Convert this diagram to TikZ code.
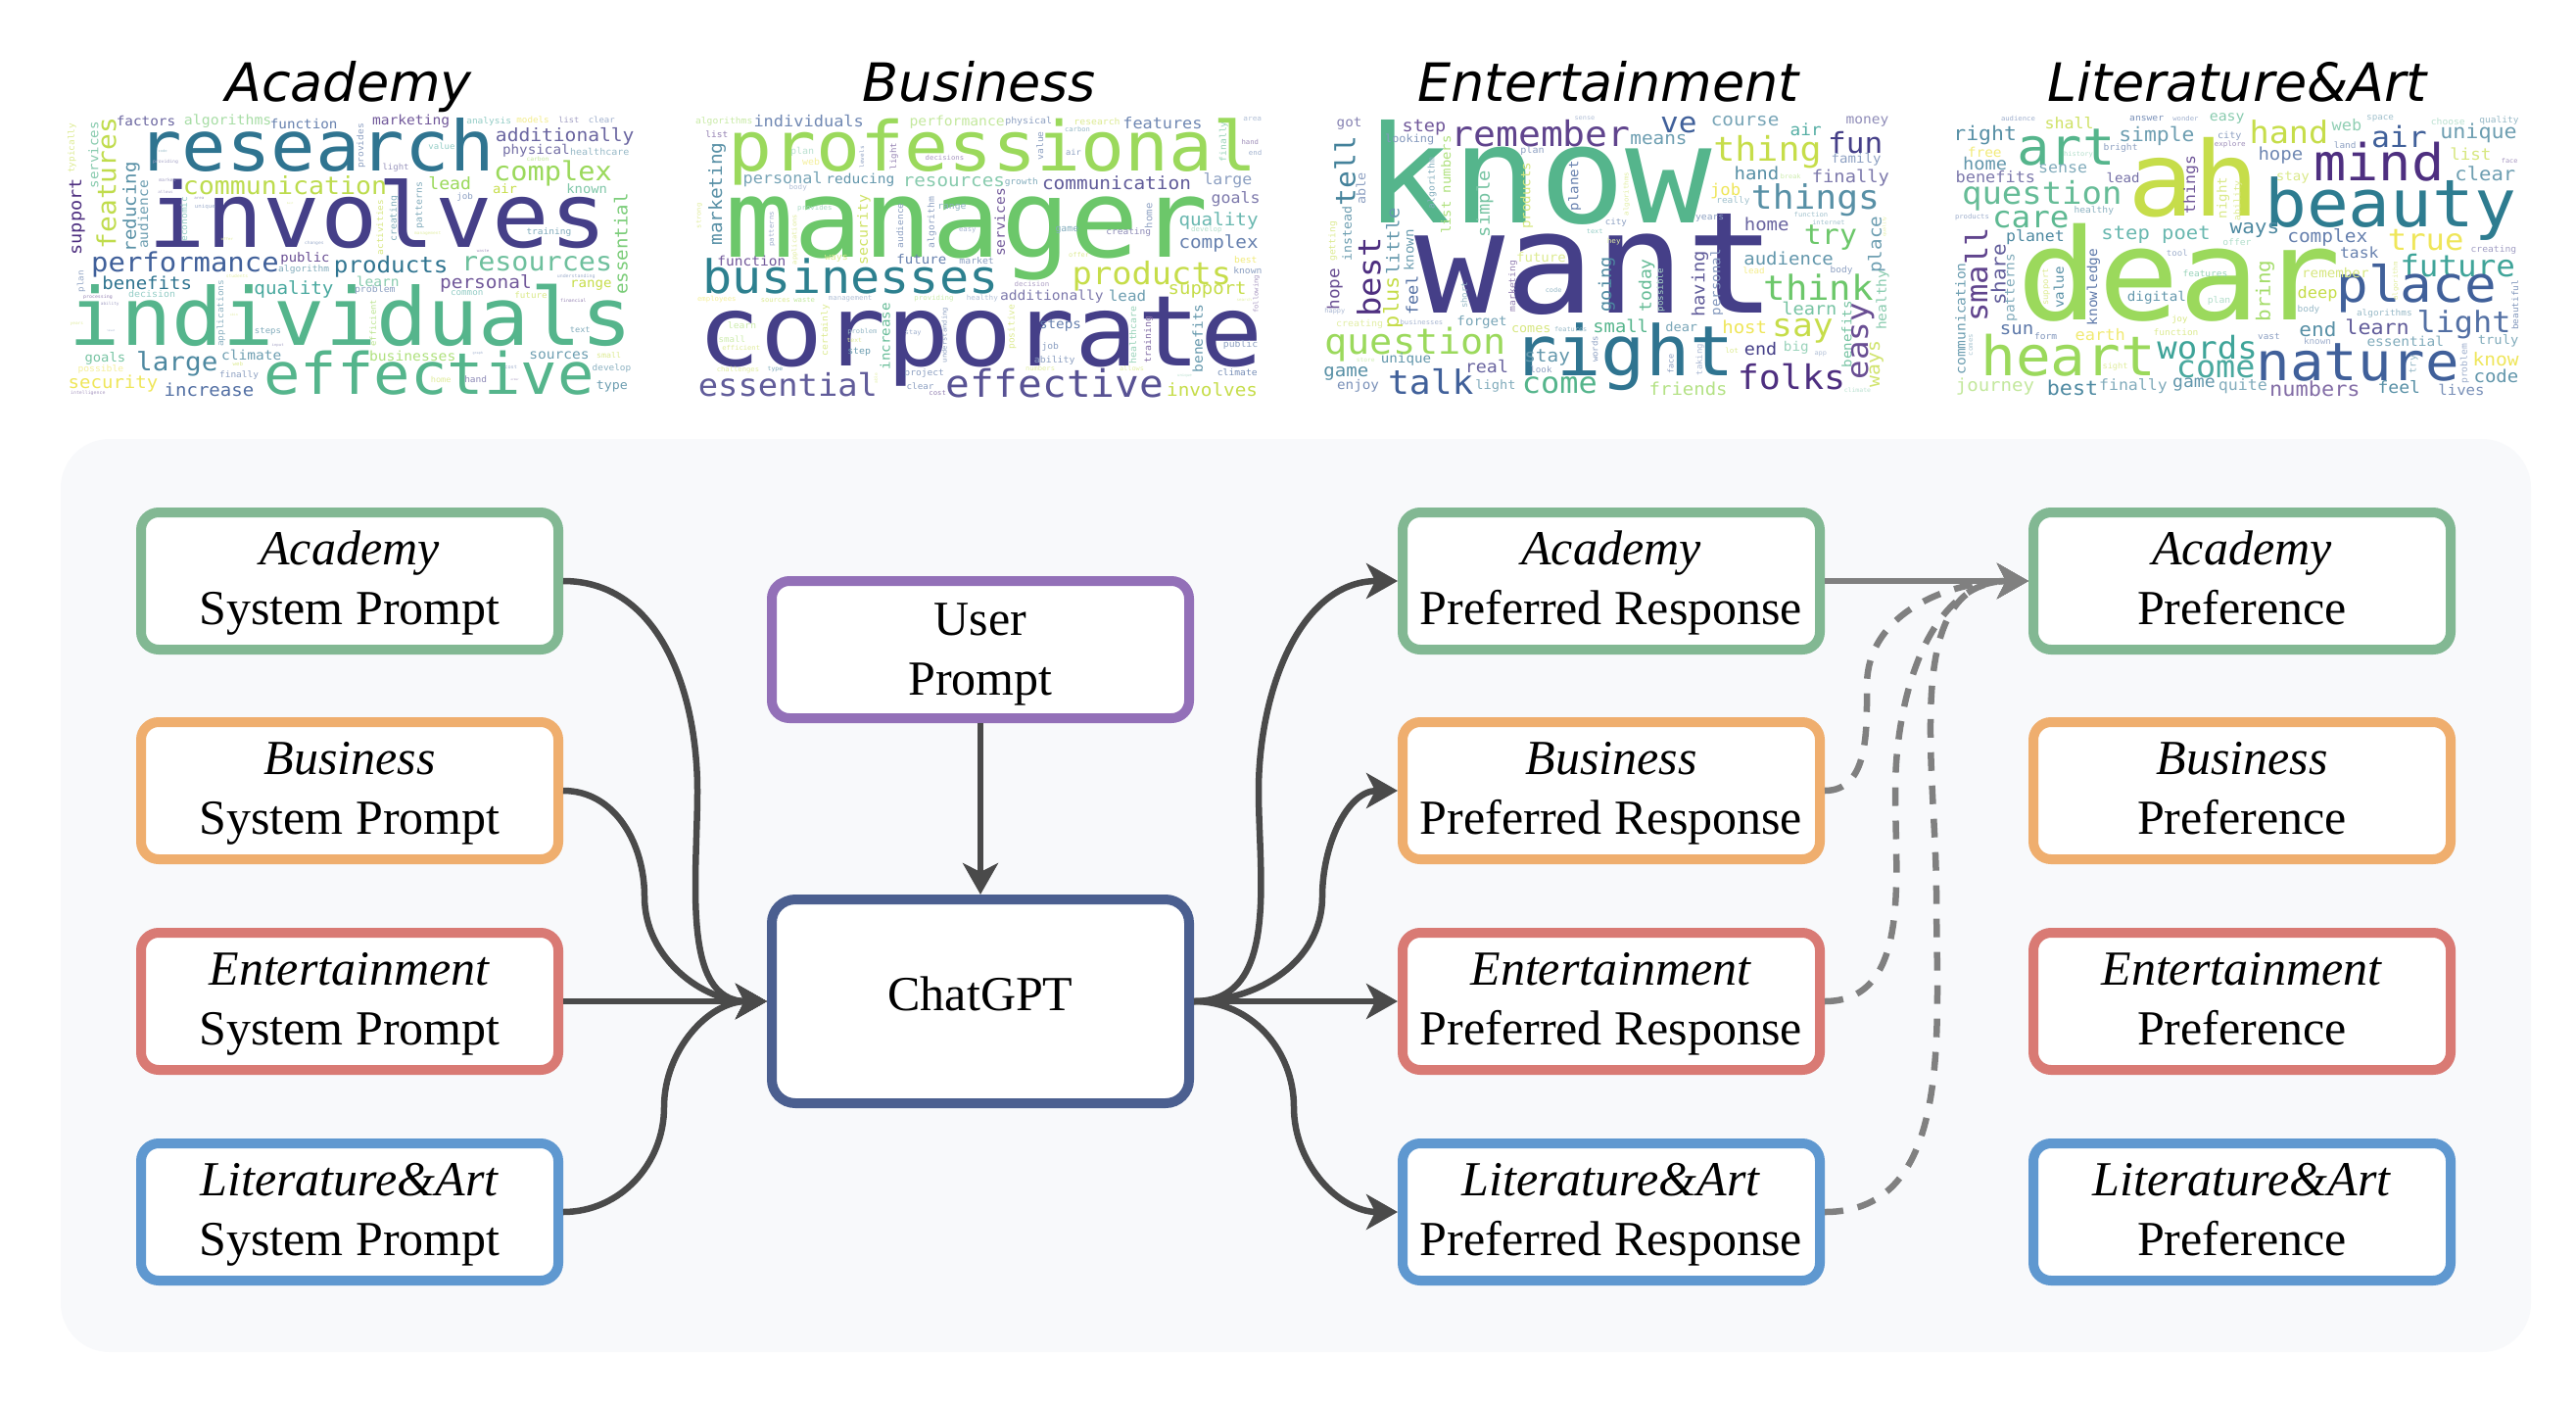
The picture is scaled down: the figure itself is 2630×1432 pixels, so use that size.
\documentclass[tikz,border=0pt]{standalone}
\usepackage{fontspec}
\usetikzlibrary{arrows.meta}
\setmainfont{Liberation Serif}
\newfontfamily\cloudfont{DejaVu Sans Mono}
\newfontfamily\titlefont{DejaVu Sans}
\definecolor{panelgray}{HTML}{F8F9FB}
\definecolor{linkdark}{HTML}{4A4A4A}
\definecolor{linkgray}{HTML}{808080}
\definecolor{boxgreen}{HTML}{82B893}
\definecolor{boxorange}{HTML}{EFAE6E}
\definecolor{boxred}{HTML}{D97A74}
\definecolor{boxblue}{HTML}{5F98D0}
\definecolor{boxpurple}{HTML}{9370B8}
\definecolor{boxnavy}{HTML}{4B5F90}
\definecolor{va}{HTML}{4E2F80}
\definecolor{vb}{HTML}{453F88}
\definecolor{vc}{HTML}{40609A}
\definecolor{vd}{HTML}{2F7490}
\definecolor{ve}{HTML}{2A9A8E}
\definecolor{vf}{HTML}{55B58C}
\definecolor{vg}{HTML}{6CC76A}
\definecolor{vh}{HTML}{9BD95C}
\definecolor{vi}{HTML}{C6DD4A}
\definecolor{vj}{HTML}{EFE65A}
\tikzset{
  promptbox/.style={draw=#1,fill=white,line width=10pt,rounded corners=18pt,minimum width=426pt,minimum height=140pt,align=center,font=\fontsize{50pt}{61pt}\selectfont},
  modelbox/.style={promptbox=#1,minimum height=208pt,rounded corners=24pt},
  link/.style={draw=linkdark,line width=6.5pt,-{Stealth[length=32pt,width=36pt,inset=9pt]}},
  graylink/.style={draw=linkgray,line width=6.5pt,-{Stealth[length=32pt,width=36pt,inset=9pt]}},
  grayjoin/.style={graylink,dash pattern=on 19pt off 15pt},
  wordnode/.style={inner sep=0pt,outer sep=0pt},
  cloudtitle/.style={anchor=base,font=\titlefont\itshape\fontsize{54pt}{60pt}\selectfont}
}
% two lines of a box, with a strut to set their height in the box
\newcommand{\boxlines}[3][38pt]{\rule{0pt}{#1}#2\\#3\vphantom{p}}
% one word cloud: name, crop origin x and y, horizontal scale, words
\newcommand{\wordcloud}[5]{
  \foreach \wx/\wy/\wl/\wa/\wc/\wt [count=\wi] in {#5} {
    \pgfmathsetmacro\px{#2+\wx/#4}
    \pgfmathsetmacro\py{#3+3+\wy/3}
    \pgfmathsetlengthmacro\plen{1.02*(\wa==0 ? \wl/#4 : \wl/3)}
    \node[wordnode,text=\wc,rotate=\wa] (#1\wi) at (\px,\py) {\scalebox{1}[0.94]{\resizebox{\plen}{!}{\cloudfont\wt}}};
  }
}
\begin{document}
\begin{tikzpicture}[x=1pt,y=-1pt]
\useasboundingbox (0,0) rectangle (2630,1432);
\fill[white] (0,0) rectangle (2630,1432);

% titles
\node[cloudtitle] (titleacademy) at (356,103) {Academy};
\node[cloudtitle] (titlebusiness) at (1000,103) {Business};
\node[cloudtitle] (titleentertain) at (1642,103) {Entertainment};
\node[cloudtitle] (titleliterature) at (2284,103) {Literature\&Art};

% word clouds
\wordcloud{acad}{40}{30}{2.45}{
692/345/875/0/vd/research,847/555/1125/0/vb/involves,780/868/1380/0/vf/individuals,975/1042/810/0/vf/effective,
615/470/500/0/vi!80!vh/communication,365/712/460/0/vc/performance,880/718/280/0/vd/products,1245/708/370/0/vf!85/resources,
1285/432/290/0/vh/complex,1315/320/340/0/vb!80/additionally,1243/362/165/0/vb!75/physical,1402/365/145/0/vd!50/healthcare,
267/272/145/0/vb!80/factors,472/272/215/0/vg!60/algorithms,662/280/165/0/vc!80/function,930/272/190/0/va!80/marketing,
1125/272/110/0/ve!50/analysis,1235/268/80/0/vj!70/models,1325/268/50/0/vb!50/list,1407/268/65/0/vc!50/clear,
82/355/150/90/vi!60/typically,168/462/395/90/vi!85!vh/features,136/375/200/90/vf!70/services,230/535/270/90/vd!80/reducing,
260/558/205/90/vd!70/audience,95/565/230/90/va/support,805/348/135/90/vc!60/provides,1007/348/65/0/ve!50/value,
892/415/65/0/vb!55/light,1247/388/55/0/vh!60/carbon,1027/462/105/0/vh/lead,1165/480/60/0/vi/air,1370/478/100/0/vf!75/known,
1065/505/40/0/vc!60/job,1455/648/305/90/vg!90/essential,1275/612/110/0/vd!60/training,888/570/140/90/vd!60/creating,
952/530/140/90/vd!60/patterns,852/597/165/90/vi!70/activities,362/572/135/90/ve!50/economic,665/692/120/0/va!85/public,
662/727/125/0/vd!60/algorithm,270/767/220/0/vd/benefits,637/787/195/0/ve!85/quality,1117/770/225/0/va!80/personal,
847/762/105/0/vf!70/learn,840/788/100/0/vc!60/problem,1380/775/102/0/vi/range,105/762/65/90/vc!55/plan,282/802/115/0/ve!50/decision,
1070/797/80/0/ve!50/common,1230/805/80/0/vi!65/future,455/860/200/90/vd!55/applications,835/890/140/90/vh!70/efficient,
147/810/71/0/va!60/processing,572/915/65/0/vd!60/steps,1353/910/50/0/vd!60/text,165/998/100/0/vf!80/goals,345/1015/200/0/vd!85/large,
531/988/147/0/vd!70/climate,934/990/212/0/vh!80/businesses,1301/990/147/0/vd!70/sources,1425/990/60/0/vi!60/small,
1432/1028/95/0/vd!55/develop,154/1033/112/0/vj!60/possible,500/1050/96/0/vc!60/finally,185/1075/220/0/vj/security,
425/1095/220/0/vc!90/increase,1005/1063/50/0/vi!55/home,1092/1063/55/0/vb!60/hand,1433/1085/77/0/vd!70/type,
122/1105/85/0/va!50/intelligence,1336/820/63/0/va!60/financial,1343/747/93/0/vc!50/understanding,495/747/54/0/vi!50/students,
316/398/62/0/vb!50/providing,321/453/42/0/vb!50/market,316/490/37/0/vb!45/allows,400/507/24/0/vb!50/area,415/533/50/0/vc!50/unique,
309/362/22/0/vd!45/code,470/632/30/0/vi!55/offer,688/645/47/0/vc!50/changes,972/617/65/0/vi!50/management,1110/668/30/0/va!50/waste,
177/833/45/0/vb!50/ability,94/892/32/0/vi!55/years,180/915/20/0/vc!50/level,487/865/19/0/vi!55/skin,597/957/29/0/vb!50/input,
497/1015/25/0/vi!60/web,1097/983/25/0/vc!50/graph,1180/1025/30/0/vc!50/cost,1190/1065/20/0/va!50/order,630/523/20/0/vi!55/best
}
\wordcloud{busi}{680}{30}{2.45}{
817/365/1295/0/vh/professional,752/630/1185/0/vg/manager,787/948/1385/0/vb/corporate,462/748/725/0/vd!70!ve/businesses,
1215/745/390/0/vi/products,305/1078/440/0/vb!85/essential,972/1075/535/0/vb!90/effective,1366/1095/223/0/vi/involves,
357/272/270/0/vc!75/individuals,728/275/233/0/vh!60/performance,907/272/115/0/vc!60/physical,1078/272/113/0/vi!60/research,
1242/278/195/0/vc!75/features,145/272/140/0/vh!55/algorithms,1467/267/45/0/vc!40/area,127/312/55/0/va!60/list,
1029/297/62/0/vd!50/carbon,1395/335/120/90/vf!60/finally,1461/335/42/0/va!55/hand,1474/370/32/0/vc!50/end,
128/495/310/90/vd!80/marketing,341/365/58/0/vf!40/plan,363/395/43/0/vj!60/web,935/347/85/90/vc!60/value,1019/368/38/0/vc!60/air,
490/382/65/90/vc!60/levels,570/380/80/90/va!60/light,697/383/95/0/va!50/decisions,292/450/195/0/vd!65/personal,
486/452/168/0/vd!75/reducing,720/458/250/0/vf!70/resources,889/460/82/0/vd!60/growth,1127/460/365/0/vb!85/communication,
1405/455/120/0/vc!60/large,330/477/44/0/vc!40/body,1425/510/120/0/vb!70/goals,1382/578/195/0/ve!70/quality,1382/645/195/0/vc!80/complex,
835/582/205/90/va!80/services,495/605/210/90/vi!85/security,585/592/135/90/vc!60/audience,665/582/155/90/vc!60/algorithm,
715/538/70/0/vd!55/range,372/540/85/0/vf!50/provides,83/562/75/90/vi!55/strong,265/602/105/90/vc!50/patterns,322/635/150/90/vi!55/applications,
754/607/42/0/vc!45/easy,1003/605/57/0/vd!60/game,1157/612/110/0/vb!60/creating,1207/562/75/90/vc!60/home,1352/605/75/0/vf!45/develop,
1033/680/50/0/vi!60/offer,214/700/168/0/va!80/function,426/692/57/0/vi!60/ways,639/696/122/0/vc!80/future,777/700/85/0/vc!60/market,
1450/695/56/0/vj!80/best,1455/730/70/0/vc!60/known,915/772/86/0/va!45/decision,1354/790/192/0/vi/support,965/810/254/0/vb!70/additionally,
1154/807/92/0/vd!70/lead,1477/802/115/90/va!50/following,127/817/95/0/vj!60/employees,274/820/72/0/vi!60/sources,346/820/52/0/vh!60/waste,
461/815/107/0/vc!40/management,670/815/96/0/vh!50/providing,791/815/77/0/vc!40/healthy,1446/820/37/0/vi!50/search,
398/912/155/90/vi!60/certainly,548/930/200/90/vf!90/increase,865/902/135/90/vi!60/positive,986/897/103/0/vc!80/steps,
1168/927/175/90/vf!60/healthcare,1207/940/140/90/va!70/training,1330/937/205/90/vd!75/benefits,190/898/70/0/vh!50/learn,165/940/66/0/vh!50/small,
491/917/72/0/vd!50/problem,618/922/40/0/vc!50/stay,698/927/165/90/vc!60/understanding,961/962/42/0/vc!60/job,1437/957/85/0/vc!60/public,
471/942/37/0/vi!55/text,188/967/93/0/vi!55/efficient,483/980/57/0/vd!70/step,972/1005/100/0/vc!60/ability,936/1028/72/0/vi!50/numbers,
1165/1028/60/0/vi!50/allows,180/1033/104/0/vi!50/challenges,273/1033/37/0/vd!60/type,646/1045/97/0/vc!60/project,636/1085/67/0/vc!60/clear,
679/1103/42/0/va!60/cost,1297/1050/35/0/vf!40/unique,1429/1040/98/0/vc!70/climate,525/1055/40/90/vi!50/able
}
\wordcloud{ente}{1320}{30}{2.45}{
615/430/850/0/vf/know,757/712/885/0/vb/want,827/995/545/0/vd/right,307/955/445/0/vh/question,1247/1055/265/0/va/folks,345/1070/210/0/vc/talk,
667/1082/185/0/vf/come,620/310/440/0/va!90/remember,1187/365/265/0/vi/thing,1307/515/315/0/vd!80/things,1315/780/270/0/vg/think,
1275/915/150/0/vi/say,1345/630/130/0/vg/try,1407/338/135/0/vb/fun,965/283/90/0/vc/ve,1131/272/167/0/vd!65/course,1283/298/77/0/ve!80/air,
1437/272/105/0/vb!60/money,1409/388/122/0/vc!60/family,1395/445/190/0/vb!70/finally,1160/432/110/0/vd!80/hand,1245/440/50/0/vh!50/break,
915/328/140/0/vd!70/means,328/292/107/0/va!80/step,141/280/62/0/vb!65/got,292/327/120/0/vc!65/looking,599/362/58/0/vc!60/plan,730/262/50/0/vc!40/sense,
130/425/210/90/vd!90/tell,170/478/95/90/vc!60/able,348/462/155/90/vd!60/algorithm,383/467/295/90/vh!80/list numbers,480/525/200/90/vf!80/simple,
585/500/200/90/vi!70/products,705/470/150/90/vc!80/planet,1082/485/75/0/vj/job,1101/517/82/0/vd!45/really,835/495/130/90/vi!50/algorithms,
1185/588/110/0/vb!80/home,1296/558/83/0/vd!45/function,1340/583/80/0/vd!45/internet,1480/595/60/90/vi!50/quality,1460/650/170/90/vd!70/place,
1043/570/70/0/vc!60/years,808/583/53/0/vc!60/city,755/610/40/0/ve!50/text,803/640/33/0/vi!50/hey,100/640/120/90/vi!60/getting,135/617/165/90/vd!70/instead,
250/640/200/90/vd!75/little,290/667/125/90/vd!70/known,190/750/240/90/va/best,105/787/125/90/va!85/hope,250/827/155/90/vi/plus,298/805/120/90/vc!90/feel,
105/855/50/0/vc!45/happy,621/688/122/0/vi!60/future,550/777/155/90/va!60/marketing,428/805/80/90/vd!50/short,652/788/40/0/vd!50/code,785/772/165/90/vd!85/going,
885/775/160/90/vf!90/today,920/790/130/90/vf!50/possible,1018/770/200/90/vb!85/having,1060/765/200/90/vc!65/personal,1240/692/220/0/vd!75/audience,
1153/730/53/0/vj!70/lead,1372/730/55/0/vc!60/body,1475/820/180/90/vf!70/healthy,1292/845/135/0/vf!80/learn,1385/925/200/90/vf!80/benefits,
1425/945/230/90/va!85/easy,1460/1015/140/90/vi!80/ways,167/895/115/0/vi!50/creating,322/887/105/0/vc!45/businesses,473/888/123/0/vd!65/forget,
596/908/97/0/vi!70/comes,695/910/80/0/vd!50/features,820/900/136/0/vf/small,972/902/79/0/vd!65/dear,1130/903/110/0/vj/host,1170/968/80/0/vb/end,
1259/965/62/0/vf!60/big,1098/975/33/0/vi!60/lot,1320/985/30/0/vc!40/app,755/970/80/90/vc!60/words,1018/1002/95/90/vc!45/taking,945/1015/60/90/vc!60/face,
283/1002/123/0/vd!75/unique,182/1002/45/0/vh!45/store,636/995/112/0/vd!75/stay,485/1022/106/0/vb!80/real,621/1033/53/0/vc!60/look,133/1045/110/0/vd!80/game,
163/1082/103/0/vc!70/enjoy,507/1083/99/0/vd!60/light,989/1092/192/0/vh!75/friends,1417/1095/75/0/vf!40/climate
}
\wordcloud{lite}{1960}{30}{2.34}{
655/443/310/0/vi/ah,620/737/760/0/vh/dear,1125/540/590/0/vd!80!ve/beauty,1097/397/305/0/va/mind,350/352/230/0/vf/art,882/305/185/0/vi/hand,
1145/320/130/0/vc/air,156/315/148/0/vd!80/right,566/318/177/0/vd!70/simple,357/278/115/0/vi!85/shall,1335/310/180/0/vd!70/unique,1020/283/70/0/vf!65/web,
1100/265/64/0/vd!45/space,1262/272/80/0/vf!40/choose,1384/270/92/0/vd!50/quality,235/265/80/0/vc!50/audience,542/263/80/0/vc!70/answer,635/265/60/0/vc!50/wonder,
734/265/82/0/vf!70/easy,740/317/56/0/vc!60/city,741/343/73/0/va!55/explore,480/355/80/0/vc!60/bright,1016/345/52/0/vc!60/land,155/368/80/0/vj!80/free,
379/375/68/0/vf!45/history,862/378/105/0/vc!75/hope,1316/373/97/0/vi!70/list,156/403/103/0/vd!75/home,342/418/115/0/vd!60/sense,1409/392/38/0/va!50/face,
181/443/187/0/vb!70/benefits,486/447/78/0/vb!75/lead,891/445/78/0/vi!65/stay,1351/432/142/0/vd!70/clear,292/500/375/0/vf!90/question,
648/467/175/90/va!80/things,725/507/125/90/vi!65/night,760/515/120/90/vi!60/ability,265/572/180/0/vf!95/care,416/547/93/0/vd!55/healthy,125/567/80/0/vc!50/products,
135/742/285/90/va!90/small,188/742/185/90/vb!85/share,276/628/137/0/vd!85/planet,564/620/255/0/ve!70/step poet,800/605/116/0/vd!85/ways,758/642/67/0/vf!45/offer,
974/627/188/0/vc!80/complex,1209/635/178/0/vj/true,1371/665/107/0/vb!50/creating,1050/675/90/0/vc!80/task,615/675/50/0/vc!50/tool,1285/715/270/0/ve!90/future,
1187/785/375/0/vc/place,993/737/157/0/vi!70/remember,682/738/105/0/vf!60/features,825/792/185/90/vh!90/bring,218/782/205/90/vd!60/patterns,332/782/125/90/vd!80/value,
302/780/110/90/vi!60/support,415/780/230/90/vc!85/knowledge,97/877/335/90/vd!70/communication,566/813/138/0/vd!75/digital,715/823/54/0/vf!45/plan,950/800/94/0/vi/deep,
1137/762/115/90/vi!55/algorithm,1422/835/150/90/vc!65/beautiful,929/848/52/0/vd!50/body,1110/862/130/0/vd!50/algorithms,1300/895/220/0/vc!90/light,1093/903/150/0/vb!85/learn,
621/880/37/0/vi!70/joy,232/912/79/0/vc!85/sun,301/930/53/0/vc!65/form,431/925/117/0/vj!85/earth,612/918/105/0/vi!60/function,834/930/52/0/vc!60/vast,950/945/64/0/vc!50/known,
951/910/87/0/vd!80/end,1160/945/180/0/vd!60/essential,1382/945/95/0/vd!60/truly,122/957/65/90/vd!40/comes,355/990/410/0/vh/heart,687/965/235/0/ve!90/words,
1047/1010/475/0/vc/nature,707/1032/185/0/ve!85/come,467/1023/60/0/vi!55/sight,1302/1015/120/90/vc!50/problem,1180/1017/55/90/vd!50/try,1376/1000/108/0/vj/know,
1377/1053/105/0/vd!75/code,180/1085/184/0/vh!60/journey,365/1088/120/0/vd!85/best,510/1083/160/0/vd!60/finally,655/1080/100/0/vd!75/game,772/1085/115/0/vd!60/quite,
944/1092/212/0/va!70/numbers,1145/1085/100/0/vd!80/feel,1305/1095/130/0/vc!70/lives
}

% panel
\fill[panelgray,rounded corners=50pt] (62,448) rectangle (2584,1380);

% system prompts
\node[promptbox=boxgreen] (sysacademy) at (357,593) {\boxlines{\textit{Academy}}{System Prompt}};
\node[promptbox=boxorange] (sysbusiness) at (357,807) {\boxlines{\textit{Business}}{System Prompt}};
\node[promptbox=boxred] (sysentertain) at (357,1022) {\boxlines{\textit{Entertainment}}{System Prompt}};
\node[promptbox=boxblue] (sysliterature) at (357,1237) {\boxlines{\textit{Literature\&Art}}{System Prompt}};

% middle
\node[promptbox=boxpurple] (userprompt) at (1001,663) {\boxlines[42pt]{User}{Prompt}};
\node[modelbox=boxnavy] (chatgpt) at (1001,1022) {\rule[-15pt]{0pt}{1pt}ChatGPT};

% responses
\node[promptbox=boxgreen] (respacademy) at (1645,593) {\boxlines{\textit{Academy}}{Preferred Response}};
\node[promptbox=boxorange] (respbusiness) at (1645,807) {\boxlines{\textit{Business}}{Preferred Response}};
\node[promptbox=boxred] (respentertain) at (1645,1022) {\boxlines{\textit{Entertainment}}{Preferred Response}};
\node[promptbox=boxblue] (respliterature) at (1645,1237) {\boxlines{\textit{Literature\&Art}}{Preferred Response}};

% preferences
\node[promptbox=boxgreen] (prefacademy) at (2289,593) {\boxlines{\textit{Academy}}{Preference}};
\node[promptbox=boxorange] (prefbusiness) at (2289,807) {\boxlines{\textit{Business}}{Preference}};
\node[promptbox=boxred] (prefentertain) at (2289,1022) {\boxlines{\textit{Entertainment}}{Preference}};
\node[promptbox=boxblue] (prefliterature) at (2289,1237) {\boxlines{\textit{Literature\&Art}}{Preference}};

% bend points of the curved links
\coordinate (inacademy) at (712,807);
\coordinate (inbusiness) at (658,915);
\coordinate (inliterature) at (678,1130);
\coordinate (outacademy) at (1285,807);
\coordinate (outbusiness) at (1350,915);
\coordinate (outliterature) at (1321,1130);
\coordinate (joinbusiness) at (1906,700);
\coordinate (joinentertain) at (1935,807);
\coordinate (joinliterature) at (1977,915);

% links into chatgpt
\draw[link] (sysacademy.east) to[out=0,in=90] (inacademy) to[out=-90,in=180] (chatgpt.west);
\draw[link] (sysbusiness.east) to[out=0,in=90] (inbusiness) to[out=-90,in=180] (chatgpt.west);
\draw[link] (sysentertain.east) -- (chatgpt.west);
\draw[link] (sysliterature.east) to[out=0,in=-90] (inliterature) to[out=90,in=180] (chatgpt.west);
\draw[link] (userprompt.south) -- (chatgpt.north);

% links out of chatgpt
\draw[link] (chatgpt.east) to[out=0,in=-90] (outacademy) to[out=90,in=180] (respacademy.west);
\draw[link] (chatgpt.east) to[out=0,in=-90] (outbusiness) to[out=90,in=180] (respbusiness.west);
\draw[link] (chatgpt.east) -- (respentertain.west);
\draw[link] (chatgpt.east) to[out=0,in=90] (outliterature) to[out=-90,in=180] (respliterature.west);

% links to the preference
\draw[graylink] (respacademy.east) -- (prefacademy.west);
\draw[grayjoin] (respbusiness.east) to[out=0,in=-90] (joinbusiness) to[out=90,in=180] (prefacademy.west);
\draw[grayjoin] (respentertain.east) to[out=0,in=-90] (joinentertain) to[out=90,in=180] (prefacademy.west);
\draw[grayjoin] (respliterature.east) to[out=0,in=-90] (joinliterature) to[out=90,in=180] (prefacademy.west);
\end{tikzpicture}
\end{document}
